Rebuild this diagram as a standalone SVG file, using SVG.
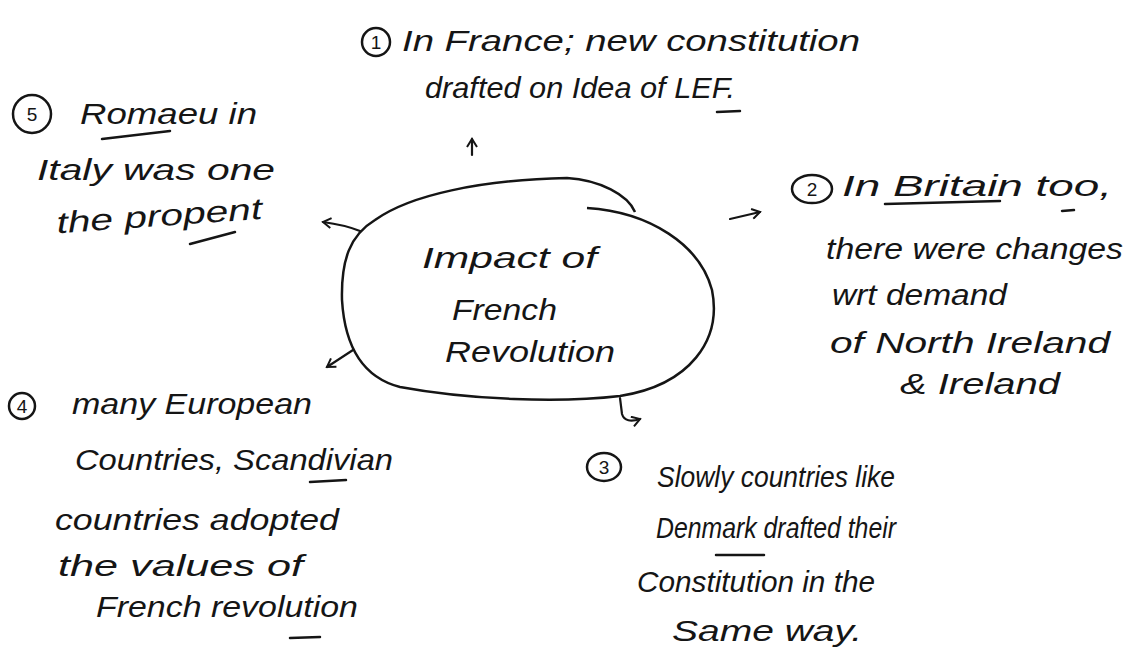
<svg xmlns="http://www.w3.org/2000/svg" width="1130" height="664" viewBox="0 0 1130 664">
<defs>
<style>
.t{font-family:"Liberation Sans","DejaVu Sans",sans-serif;font-size:30px;fill:#151515;font-style:italic}
.n{font-family:"Liberation Sans","DejaVu Sans",sans-serif;font-size:19px;fill:#151515;text-anchor:middle}
.c{fill:none;stroke:#151515;stroke-width:2.5}
.u{fill:none;stroke:#151515;stroke-width:2.5;stroke-linecap:round}
.a{fill:none;stroke:#151515;stroke-width:2.2;stroke-linecap:round;stroke-linejoin:round}
</style>
<marker id="ah" viewBox="0 0 12 12" refX="10" refY="6" markerWidth="12" markerHeight="12" markerUnits="userSpaceOnUse" orient="auto">
<path d="M2,1 L10,6 L2,11" fill="none" stroke="#151515" stroke-width="2"/>
</marker>
</defs>
<rect width="1130" height="664" fill="#ffffff"/>

<g id="center">
<path class="c" d="M587,208 C650,212 700,245 712,290 C722,340 690,385 620,396 C560,403 470,400 400,387 C365,378 345,350 342,300 C341,260 350,235 375,220 C410,195 480,180 567,178 C600,180 628,195 635,212"/>
<text class="t" x="422" y="268" textLength="175" lengthAdjust="spacingAndGlyphs">Impact of</text>
<text class="t" x="452" y="320" textLength="105" lengthAdjust="spacingAndGlyphs">French</text>
<text class="t" x="445" y="362" textLength="170" lengthAdjust="spacingAndGlyphs">Revolution</text>
</g>

<g id="connectors">
<path class="a" d="M472,155 L472,139" marker-end="url(#ah)"/>
<path class="a" d="M730,219 L760,212" marker-end="url(#ah)"/>
<path class="a" d="M360,231 C350,227 338,224 323,222" marker-end="url(#ah)"/>
<path class="a" d="M353,350 L327,367" marker-end="url(#ah)"/>
<path class="a" d="M620,398 L622,414 C624,421 631,422 640,419" marker-end="url(#ah)"/>
</g>

<g id="node1">
<circle class="c" cx="376" cy="42" r="14"/>
<text class="n" x="376" y="49">1</text>
<text class="t" x="402" y="51" textLength="458" lengthAdjust="spacingAndGlyphs">In France; new constitution</text>
<text class="t" x="425" y="98" textLength="310" lengthAdjust="spacingAndGlyphs">drafted on Idea of LEF.</text>
<path class="u" d="M717,112 L740,111"/>
</g>

<g id="node5">
<circle class="c" cx="32" cy="114" r="19"/>
<text class="n" x="32" y="121">5</text>
<text class="t" x="80" y="124" textLength="177" lengthAdjust="spacingAndGlyphs">Romaeu in</text>
<path class="u" d="M102,139 L170,131"/>
<text class="t" x="37" y="180" textLength="238" lengthAdjust="spacingAndGlyphs">Italy was one</text>
<text class="t" x="57" y="226" textLength="206" lengthAdjust="spacingAndGlyphs" transform="rotate(-4 160 226)">the propent</text>
<path class="u" d="M190,244 L235,232"/>
</g>

<g id="node2">
<ellipse class="c" cx="812" cy="189" rx="20" ry="14"/>
<text class="n" x="812" y="196">2</text>
<text class="t" x="842" y="196" textLength="270" lengthAdjust="spacingAndGlyphs">In Britain too,</text>
<path class="u" d="M885,204 L1000,201"/>
<path class="u" d="M1062,211 L1074,210"/>
<text class="t" x="826" y="259" textLength="297" lengthAdjust="spacingAndGlyphs">there were changes</text>
<text class="t" x="832" y="305" textLength="175" lengthAdjust="spacingAndGlyphs">wrt demand</text>
<text class="t" x="830" y="353" textLength="280" lengthAdjust="spacingAndGlyphs">of North Ireland</text>
<text class="t" x="900" y="394" textLength="160" lengthAdjust="spacingAndGlyphs">&amp; Ireland</text>
</g>

<g id="node3">
<ellipse class="c" cx="604" cy="467" rx="17" ry="14"/>
<text class="n" x="604" y="474">3</text>
<text class="t" x="657" y="487" textLength="238" lengthAdjust="spacingAndGlyphs">Slowly countries like</text>
<text class="t" x="656" y="538" textLength="240" lengthAdjust="spacingAndGlyphs">Denmark drafted their</text>
<path class="u" d="M716,555 L764,555"/>
<text class="t" x="637" y="592" textLength="238" lengthAdjust="spacingAndGlyphs">Constitution in the</text>
<text class="t" x="672" y="641" textLength="190" lengthAdjust="spacingAndGlyphs">Same way.</text>
</g>

<g id="node4">
<circle class="c" cx="22" cy="406" r="13"/>
<text class="n" x="22" y="413">4</text>
<text class="t" x="72" y="414" textLength="240" lengthAdjust="spacingAndGlyphs">many European</text>
<text class="t" x="75" y="470" textLength="318" lengthAdjust="spacingAndGlyphs">Countries, Scandivian</text>
<path class="u" d="M310,482 L346,480"/>
<text class="t" x="55" y="530" textLength="284" lengthAdjust="spacingAndGlyphs">countries adopted</text>
<text class="t" x="58" y="576" textLength="245" lengthAdjust="spacingAndGlyphs">the values of</text>
<text class="t" x="96" y="617" textLength="262" lengthAdjust="spacingAndGlyphs">French revolution</text>
<path class="u" d="M290,638 L320,637"/>
</g>
</svg>
